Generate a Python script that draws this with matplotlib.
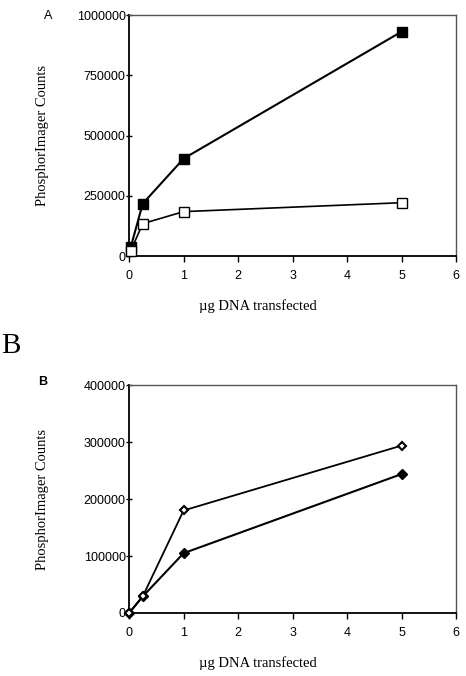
import numpy as np
import matplotlib.pyplot as plt

# panel A: squares
a_x = [0.03, 0.25, 1, 5]
a_filled = [37000, 218000, 405000, 932000]
a_open = [22000, 135000, 185000, 222000]

# panel B: diamonds
b_x = [0, 0.25, 1, 5]
b_open = [0, 29000, 180000, 294000]
b_filled = [0, 29000, 105000, 244000]

x_ticks = [0, 1, 2, 3, 4, 5, 6]
a_yticks = [0, 250000, 500000, 750000, 1000000]
b_yticks = [0, 100000, 200000, 300000, 400000]

tick_font = 'Liberation Sans'
label_font = 'Liberation Serif'

fig = plt.figure(figsize=(4.66, 6.76), dpi=100)

ax_a = fig.add_axes([0.277, 0.621, 0.702, 0.3565])
ax_b = fig.add_axes([0.277, 0.0932, 0.702, 0.337])


def style_axes(ax, yticks, ylim):
    ax.set_xlim(0, 6)
    ax.set_ylim(*ylim)
    ax.set_xticks(x_ticks)
    ax.set_yticks(yticks)
    ax.set_xticklabels([str(t) for t in x_ticks], fontfamily=tick_font, fontsize=9)
    ax.set_yticklabels([str(t) for t in yticks], fontfamily=tick_font, fontsize=9)
    ax.tick_params(axis='x', direction='out', length=4, width=1, pad=6)
    ax.tick_params(axis='y', direction='inout', length=5, width=1, pad=0)
    for side in ['left', 'bottom']:
        ax.spines[side].set_linewidth(1.3)
    for side in ['top', 'right']:
        ax.spines[side].set_linewidth(1.0)
        ax.spines[side].set_color('#555555')
    ax.set_ylabel('PhosphorImager Counts', fontfamily=label_font, fontsize=10.5)
    ax.yaxis.set_label_coords(-0.245, 0.5)
    ax.set_xlabel('µg DNA transfected', fontfamily=label_font, fontsize=10.5)


# panel A
ax_a.plot(a_x, a_filled, color='black', linewidth=1.5, marker='s', markersize=6.5,
          markerfacecolor='black', markeredgecolor='black', clip_on=False, zorder=3)
ax_a.plot(a_x, a_open, color='black', linewidth=1.2, marker='s', markersize=6.5,
          markerfacecolor='white', markeredgecolor='black', markeredgewidth=1.0,
          clip_on=False, zorder=4)
style_axes(ax_a, a_yticks, (0, 1000000))
ax_a.xaxis.set_label_coords(0.394, -0.178)

# panel B
ax_b.plot(b_x, b_open, color='black', linewidth=1.3, marker='D', markersize=4.5,
          markerfacecolor='white', markeredgecolor='black', markeredgewidth=1.5,
          clip_on=False, zorder=4)
ax_b.plot(b_x, b_filled, color='black', linewidth=1.5, marker='D', markersize=5,
          markerfacecolor='black', markeredgecolor='black', clip_on=False, zorder=3)
style_axes(ax_b, b_yticks, (0, 400000))
ax_b.xaxis.set_label_coords(0.394, -0.189)

# panel letters
fig.text(48 / 466, 1 - 16 / 676, 'A', fontfamily=tick_font, fontsize=9,
         ha='center', va='center')
fig.text(43 / 466, 1 - 382 / 676, 'B', fontfamily=tick_font, fontsize=9,
         fontweight='bold', ha='center', va='center')
fig.text(1 / 466, 1 - 346 / 676, 'B', fontfamily=label_font, fontsize=21,
         ha='left', va='center')

fig.savefig('out.png', dpi=100)
